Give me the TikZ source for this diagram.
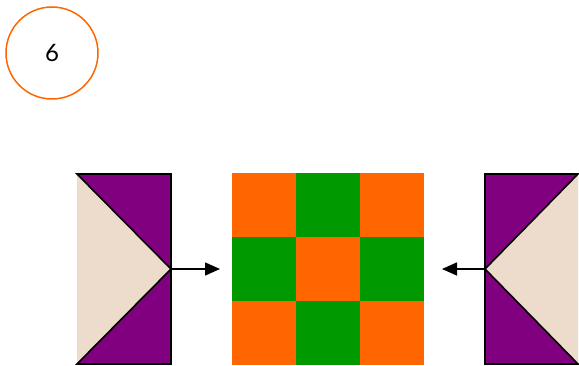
\documentclass[tikz,border=0pt]{standalone}
\usepackage{fontspec}
\setmainfont{Lato}
\usetikzlibrary{arrows.meta}
\definecolor{corange}{HTML}{FF6600}
\definecolor{cgreen}{HTML}{009900}
\definecolor{cpurple}{HTML}{800080}
\definecolor{cbeige}{HTML}{EDDCCB}
\tikzset{
  tri/.style={fill=#1,draw=black,line width=1.6pt,line join=miter},
  conn/.style={draw=black,line width=1.6pt,-{Triangle[length=15pt,width=13pt]}},
  badge/.style={circle,draw=corange,line width=1.5pt,minimum size=92pt,inner sep=0pt,font=\fontsize{24}{28}\selectfont}
}
\begin{document}
\begin{tikzpicture}[x=1pt,y=-1pt]
\useasboundingbox (0,0) rectangle (579,366);
\node[badge] (badge) at (52,53) {6};
% grid
\foreach \i in {0,1,2}{
  \foreach \j in {0,1,2}{
    \pgfmathtruncatemacro{\p}{mod(\i+\j,2)}
    \ifnum\p=0
      \fill[corange] (232+64*\i,173+64*\j) rectangle ++(64,64);
    \else
      \fill[cgreen] (232+64*\i,173+64*\j) rectangle ++(64,64);
    \fi
  }
}
\coordinate (gl) at (220,269);
\coordinate (gr) at (442,269);
% left block
\coordinate (ltl) at (77,174);
\coordinate (ltr) at (171,174);
\coordinate (lm) at (171,269);
\coordinate (lbr) at (171,364);
\coordinate (lbl) at (77,364);
\fill[cbeige] (ltl) -- (lm) -- (lbl) -- cycle;
\draw[tri=cpurple] (ltl) -- (ltr) -- (lm) -- cycle;
\draw[tri=cpurple] (lm) -- (lbr) -- (lbl) -- cycle;
% right block
\coordinate (rtl) at (485,174);
\coordinate (rtr) at (578,174);
\coordinate (rm) at (485,269);
\coordinate (rbr) at (578,364);
\coordinate (rbl) at (485,364);
\fill[cbeige] (rtr) -- (rm) -- (rbr) -- cycle;
\draw[tri=cpurple] (rtl) -- (rtr) -- (rm) -- cycle;
\draw[tri=cpurple] (rm) -- (rbr) -- (rbl) -- cycle;
% connectors
\draw[conn] (lm) -- (gl);
\draw[conn] (rm) -- (gr);
\end{tikzpicture}
\end{document}
